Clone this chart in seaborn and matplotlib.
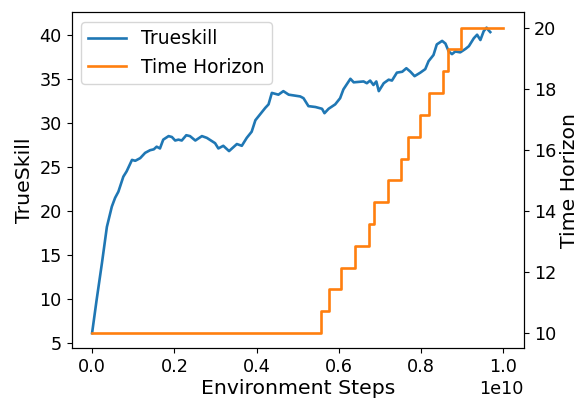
import matplotlib
matplotlib.use("Agg")
import matplotlib.pyplot as plt
import pandas as pd
import seaborn as sns

# TrueSkill over training (x in units of 1e10 environment steps)
ts_steps = [0.000, 0.011, 0.024, 0.036, 0.048, 0.056, 0.064, 0.076, 0.084, 0.097,
            0.105, 0.117, 0.129, 0.141, 0.150, 0.157, 0.165, 0.173, 0.186, 0.194,
            0.202, 0.210, 0.218, 0.229, 0.238, 0.251, 0.267, 0.279, 0.299, 0.307,
            0.319, 0.333, 0.352, 0.364, 0.376, 0.388, 0.397, 0.409, 0.421, 0.429,
            0.437, 0.453, 0.465, 0.478, 0.506, 0.514, 0.526, 0.543, 0.559, 0.565,
            0.575, 0.591, 0.603, 0.611, 0.628, 0.636, 0.660, 0.668, 0.676, 0.684,
            0.691, 0.697, 0.709, 0.721, 0.729, 0.741, 0.754, 0.764, 0.774, 0.784,
            0.798, 0.810, 0.818, 0.830, 0.838, 0.851, 0.859, 0.867, 0.875, 0.883,
            0.895, 0.908, 0.916, 0.928, 0.936, 0.944, 0.952, 0.959, 0.964, 0.968]
trueskill = [6.15, 9.9, 14.1, 18.2, 20.5, 21.5, 22.2, 23.9, 24.5, 25.8,
             25.7, 26.0, 26.6, 26.9, 27.0, 27.3, 27.1, 28.1, 28.5, 28.4,
             28.0, 28.1, 28.0, 28.6, 28.5, 28.0, 28.5, 28.3, 27.7, 27.1,
             27.4, 26.8, 27.6, 27.4, 28.3, 29.0, 30.3, 31.0, 31.7, 32.1,
             33.4, 33.2, 33.6, 33.2, 33.0, 32.8, 31.9, 31.8, 31.6, 31.1,
             31.6, 32.1, 32.8, 33.8, 35.0, 34.6, 34.7, 34.5, 34.8, 34.3,
             34.7, 33.6, 34.5, 34.9, 34.8, 35.7, 35.8, 36.2, 35.8, 35.3,
             35.7, 36.1, 37.0, 37.7, 38.9, 39.3, 39.0, 38.1, 37.8, 38.1,
             38.0, 38.4, 38.7, 39.6, 40.0, 39.4, 40.4, 40.8, 40.5, 40.3]

# Time horizon schedule (step changes)
th_steps = [0.000, 0.557, 0.577, 0.606, 0.638, 0.672, 0.686, 0.720, 0.751,
            0.767, 0.796, 0.818, 0.852, 0.865, 0.898, 1.000]
horizon = [10.0, 10.71, 11.43, 12.14, 12.86, 13.57, 14.29, 15.0, 15.71,
           16.43, 17.14, 17.86, 18.57, 19.29, 20.0, 20.0]

x_ticks = [0.0, 0.2, 0.4, 0.6, 0.8, 1.0]
left_ticks = [5, 10, 15, 20, 25, 30, 35, 40]
right_ticks = [10, 12, 14, 16, 18, 20]

SCALE = 1e10
df_ts = pd.DataFrame({"steps": [s * SCALE for s in ts_steps], "value": trueskill})
df_th = pd.DataFrame({"steps": [s * SCALE for s in th_steps], "value": horizon})

plt.rcParams.update({"font.family": ["DejaVu Sans"]})

fig, ax = plt.subplots(figsize=(5.79, 4.0), dpi=100)
fig.subplots_adjust(left=0.1235, right=0.905, top=0.969, bottom=0.129)
ax2 = ax.twinx()

sns.lineplot(data=df_ts, x="steps", y="value", ax=ax, color="#1f77b4",
             linewidth=1.9, label="Trueskill", legend=False)
sns.lineplot(data=df_th, x="steps", y="value", ax=ax2, color="#ff7f0e",
             linewidth=1.9, drawstyle="steps-post", label="Time Horizon",
             legend=False)

ax.set_xticks([t * SCALE for t in x_ticks])
ax.set_yticks(left_ticks)
ax2.set_yticks(right_ticks)

ax.tick_params(labelsize=12.7)
ax2.tick_params(labelsize=12.7)
ax.xaxis.get_offset_text().set_fontsize(12.7)

ax.set_xlabel("Environment Steps", fontsize=14.7, labelpad=2)
ax.set_ylabel("TrueSkill", fontsize=14.7)
ax2.set_ylabel("Time Horizon", fontsize=14.7, labelpad=2.5)

h1, l1 = ax.get_legend_handles_labels()
h2, l2 = ax2.get_legend_handles_labels()
ax2.legend(h1 + h2, l1 + l2, loc="upper left", fontsize=13.5)

fig.savefig("out.png", dpi=100)
